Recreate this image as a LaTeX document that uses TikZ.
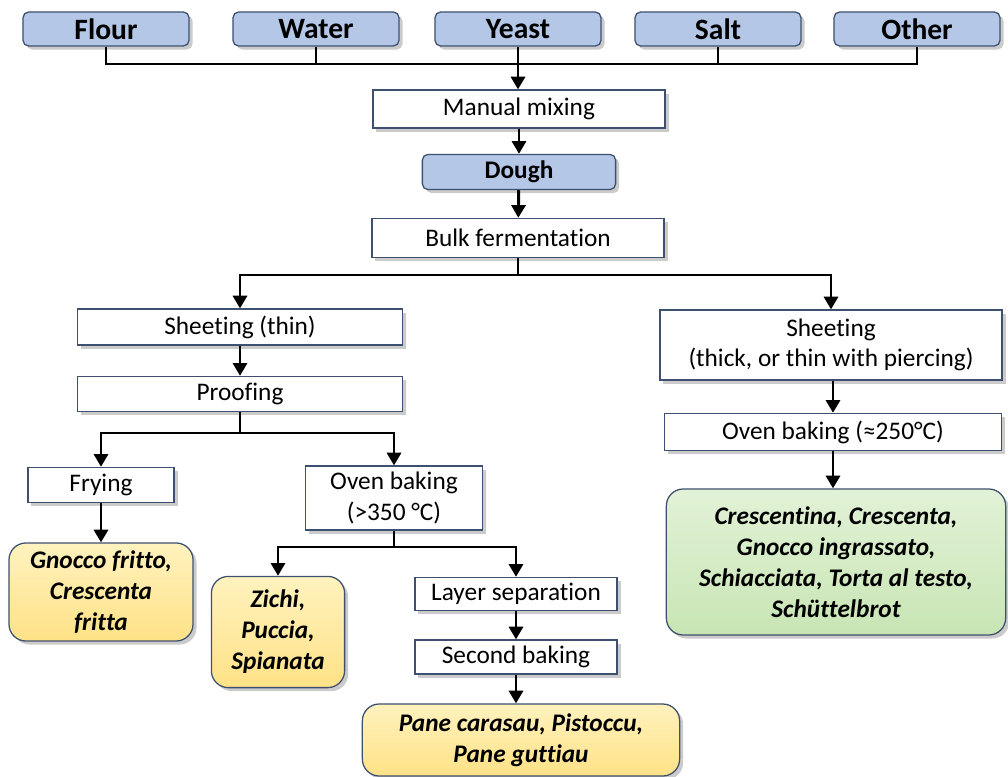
\documentclass[tikz,border=0pt]{standalone}
\usepackage{fontspec}
\setmainfont{Carlito}[Ligatures=CommonOff]
\usetikzlibrary{arrows.meta,shadows}

\definecolor{ingblue}{RGB}{180,199,231}
\definecolor{boxline}{RGB}{62,80,112}
\definecolor{yeltop}{RGB}{255,242,190}
\definecolor{yelbot}{RGB}{255,226,135}
\definecolor{grntop}{RGB}{226,242,215}
\definecolor{grnbot}{RGB}{200,229,180}

\tikzset{
  shad/.style={drop shadow={shadow xshift=2.5pt,shadow yshift=-2.5pt,fill=black!45,opacity=.45}},
  stepbox/.style={draw=boxline,line width=0.9pt,fill=white,shad,align=center,inner sep=0pt,font=\fontsize{18}{21.5}\selectfont},
  ingbox/.style={stepbox,fill=ingblue,rounded corners=4pt,minimum width=4.15cm,minimum height=0.85cm,font=\bfseries\fontsize{21}{25}\selectfont},
  prodbox/.style={stepbox,rounded corners=12pt,font=\bfseries\itshape\fontsize{18}{22}\selectfont},
  link/.style={line width=2.1pt},
  arr/.style={link,-{Triangle[length=9pt,width=10pt]}}
}

\begin{document}
\begin{tikzpicture}[x=0.025cm,y=-0.025cm]
\useasboundingbox (0,0) rectangle (1008,777);

\node[ingbox] (flour) at (106,29) {Flour};
\node[ingbox] (water) at (316,29) {Water};
\node[ingbox] (yeast) at (518,29) {Yeast};
\node[ingbox] (salt) at (718,29) {Salt};
\node[ingbox] (other) at (917,29) {Other};

\node[stepbox,minimum width=7.3cm,minimum height=0.95cm] (mix) at (519,109) {Manual mixing};
\node[stepbox,fill=ingblue,rounded corners=4pt,minimum width=4.83cm,minimum height=0.88cm,font=\bfseries\fontsize{18}{21.5}\selectfont] (dough) at (519,172) {Dough};
\node[stepbox,minimum width=7.3cm,minimum height=0.98cm] (bulk) at (518,238) {Bulk fermentation};

\node[stepbox,minimum width=8.13cm,minimum height=0.9cm] (thin) at (240,327) {Sheeting (thin)};
\node[stepbox,minimum width=8.13cm,minimum height=0.88cm] (proof) at (240,394) {Proofing};
\node[stepbox,minimum width=3.65cm,minimum height=0.88cm] (fry) at (101,485) {Frying};
\node[stepbox,minimum width=4.43cm,minimum height=1.6cm] (oven1) at (394,498) {Oven baking\\(>350 °C)};
\node[prodbox,shade,top color=yeltop,bottom color=yelbot,minimum width=4.6cm,minimum height=2.45cm] (gnocco) at (101,592) {Gnocco fritto,\\Crescenta\\fritta};
\node[prodbox,shade,top color=yeltop,bottom color=yelbot,minimum width=3.33cm,minimum height=2.78cm] (zichi) at (278,632) {Zichi,\\Puccia,\\Spianata};
\node[stepbox,minimum width=5.05cm,minimum height=0.83cm] (layer) at (516,594) {Layer separation};
\node[stepbox,minimum width=5.05cm,minimum height=0.85cm] (second) at (516,657) {Second baking};
\node[prodbox,shade,top color=yeltop,bottom color=yelbot,minimum width=7.93cm,minimum height=1.8cm] (pane) at (521,740) {Pane carasau, Pistoccu,\\Pane guttiau};

\node[stepbox,minimum width=8.55cm,minimum height=1.75cm] (thick) at (831,345) {Sheeting\\(thick, or thin with piercing)};
\node[stepbox,minimum width=8.43cm,minimum height=0.93cm] (oven2) at (833,432) {Oven baking (≈250°C)};
\node[prodbox,shade,top color=grntop,bottom color=grnbot,minimum width=8.48cm,minimum height=3.65cm] (crescentina) at (836,562) {Crescentina, Crescenta,\\Gnocco ingrassato,\\Schiacciata, Torta al testo,\\Schüttelbrot};

\coordinate (bus) at (518,64);
\coordinate (fork1) at (518,275);
\coordinate (fork2) at (240,433);
\coordinate (fork3) at (394,547);

\draw[link] (flour.south) |- (bus) -| (other.south);
\draw[link] (water.south) -- (water.south |- bus);
\draw[link] (salt.south) -- (salt.south |- bus);
\draw[arr] (yeast.south) -- (yeast.south |- mix.north);
\draw[arr] (mix) -- (dough);
\draw[arr] (dough) -- (bulk);

\draw[link] (bulk.south) -- (fork1);
\draw[arr] (fork1) -| (thin.north);
\draw[arr] (fork1) -| (thick.north);
\draw[arr] (thin) -- (proof);
\draw[link] (proof.south) -- (fork2);
\draw[arr] (fork2) -| (fry.north);
\draw[arr] (fork2) -| (oven1.north);
\draw[arr] (fry) -- (gnocco);
\draw[link] (oven1.south) -- (fork3);
\draw[arr] (fork3) -| (zichi.north);
\draw[arr] (fork3) -| (layer.north);
\draw[arr] (layer) -- (second);
\draw[arr] (second.south) -- (second.south |- pane.north);

\draw[arr] (thick.south -| oven2.north) -- (oven2.north);
\draw[arr] (oven2.south) -- (oven2.south |- crescentina.north);

\end{tikzpicture}
\end{document}
